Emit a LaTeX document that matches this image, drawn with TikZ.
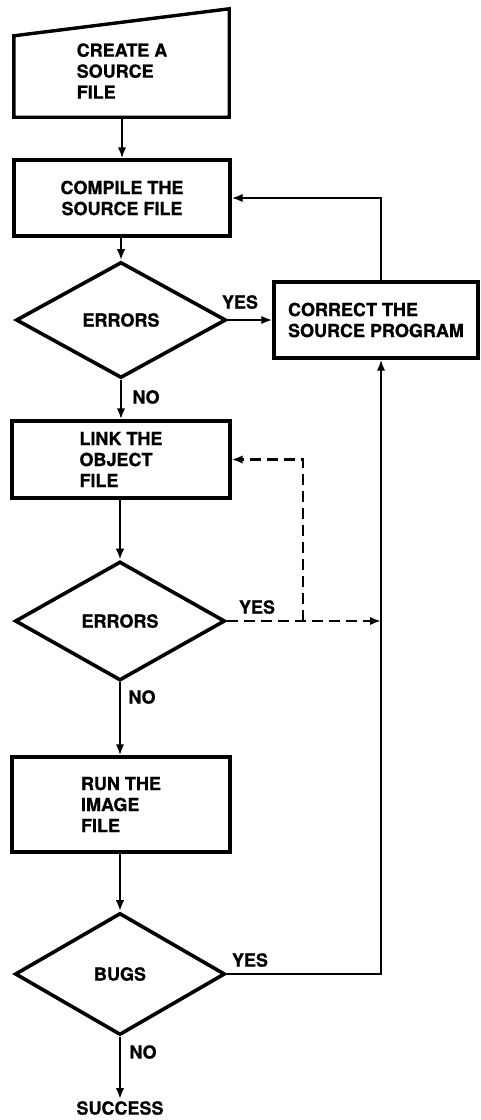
\documentclass[tikz,border=0pt]{standalone}
\usepackage{fontspec}
\setmainfont[BoldFeatures={FakeBold=0.8}]{TeX Gyre Heros}
\usetikzlibrary{shapes.geometric,arrows.meta,calc}
\tikzset{
  boxnode/.style={draw=none,minimum width=#1,inner sep=0pt},
  procbox/.style={draw,line width=3.4pt,rectangle,inner sep=0pt,align=left},
  decision/.style={draw,line width=3.6pt,diamond,inner sep=0pt,minimum width=210pt,minimum height=119pt},
  txt/.style={font=\bfseries\fontsize{18}{21}\selectfont,align=left,inner sep=0pt},
  lbl/.style={font=\bfseries\fontsize{18}{21}\selectfont,inner sep=0pt},
  arr/.style={line width=2.3pt,-{Latex[length=11pt,width=8.5pt]}},
  dashline/.style={line width=2.6pt,dash pattern=on 11pt off 6pt},
}
\begin{document}
\begin{tikzpicture}[x=1pt,y=-1pt]
\useasboundingbox (0,0) rectangle (481,1120);
% create (manual input)
\node[boxnode=215pt,minimum height=108pt] (create) at (121.5,63) {};
\draw[line width=3.4pt,line join=miter] (create.south west) -- (create.south east) -- (create.north east) -- ($(create.north west)+(0,27)$) -- cycle;
\node[txt] (createtxt) at (122,71) {CREATE A\\SOURCE\\FILE};
% compile
\node[procbox,txt,minimum width=216pt,minimum height=76pt,align=center] (compile) at (122,198) {COMPILE THE\\SOURCE FILE};
% decision 1
\node[decision,minimum height=116pt,lbl] (d1) at (121,320) {ERRORS};
% correct
\node[procbox,txt,minimum width=204pt,minimum height=76pt] (correct) at (376,320) {CORRECT THE\\SOURCE PROGRAM};
% link
\node[procbox,txt,minimum width=218pt,minimum height=77pt] (link) at (121,459.5) {LINK THE\\OBJECT\\FILE};
% decision 2
\node[decision,lbl] (d2) at (120,621) {ERRORS};
% run
\node[procbox,txt,minimum width=218pt,minimum height=95pt] (run) at (121,804.5) {RUN THE\\IMAGE\\FILE};
% decision 3
\node[decision,minimum height=122pt,lbl] (d3) at (120,974) {BUGS};
% success
\node[lbl] (success) at (120,1108) {SUCCESS};
% helper coordinates
\coordinate (bx) at (381,0);
\coordinate (dj) at (303,621);
% connectors
\draw[arr] (create.south -| compile.north) -- (compile.north);
\draw[arr] (compile.south -| d1.north) -- (d1.north);
\draw[arr] (d1.east) -- (correct.west |- d1.east);
\draw[arr] (bx |- correct.north) |- (compile.east);
\draw[arr] (d1.south) -- (d1.south |- link.north);
\draw[arr] (link.south -| d2.north) -- (d2.north);
\draw[dashline,-{Latex[length=11pt,width=8.5pt]}] (d2.east) -- (bx |- d2.east);
\draw[dashline,-{Latex[length=11pt,width=8.5pt]}] (dj) |- (link.east);
\draw[arr] (d2.south) -- (d2.south |- run.north);
\draw[arr] (run.south -| d3.north) -- (d3.north);
\draw[arr] (d3.east) -- (bx |- d3.east) -- (bx |- correct.south);
\draw[arr] (d3.south) -- ($(success.north)+(0,-2)$);
% labels
\node[lbl] (yes1) at (240,302) {YES};
\node[lbl] (no1) at (146,397) {NO};
\node[lbl] (yes2) at (257,607) {YES};
\node[lbl] (no2) at (142,697) {NO};
\node[lbl] (yes3) at (250,960) {YES};
\node[lbl] (no3) at (143,1052) {NO};
\end{tikzpicture}
\end{document}
